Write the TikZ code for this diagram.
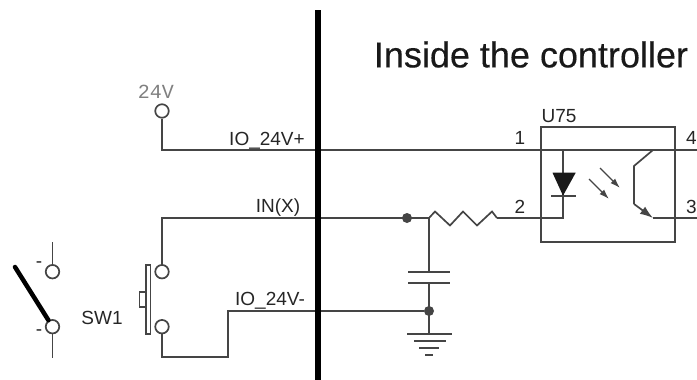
\documentclass[tikz,border=0pt]{standalone}
\usepackage{fontspec}
\setmainfont{Liberation Sans}
\setmonofont{Liberation Mono}
\newfontfamily\titlefont[FakeBold=0.35]{Liberation Sans}
\usetikzlibrary{arrows.meta}
\usetikzlibrary{positioning}
\definecolor{wirecol}{HTML}{454545}
\tikzstyle{term} = [circle, draw=wirecol, line width=1.7pt, inner sep=0pt, minimum size=13.5pt]
\tikzstyle{dot} = [circle, fill=wirecol, inner sep=0pt, minimum size=10pt]
\tikzstyle{label} = [inner sep=0pt, font=\fontsize{19}{19}\selectfont, text=black!85]
\tikzstyle{wire} = [draw=wirecol, line width=1.7pt, line join=miter]
\tikzstyle{light} = [draw=wirecol, line width=1.4pt, -{Latex[length=10pt,width=6.5pt]}]

\begin{document}
\begin{tikzpicture}[x=1pt,y=-1pt]
\useasboundingbox (0,0) rectangle (697,380);
% Place nodes
	\node [term] (v24) at (162,111) {};
	\node [term] (swt) at (162,271.7) {};
	\node [term] (swb) at (162,326.7) {};
	\node [term] (ext) at (52.5,271.7) {};
	\node [term] (exb) at (52.5,326.7) {};
	\node [dot] (jin) at (407,218) {};
	\node [dot] (jgnd) at (429,311) {};
	\coordinate (bartop) at (318,10);
	\coordinate (barbot) at (318,380);
	\coordinate (v24c) at (162,150);
	\coordinate (ledtop) at (563,150);
	\coordinate (ledbot) at (563,218);
	\coordinate (inc) at (162,218);
	\coordinate (rl) at (429,218);
	\coordinate (rr) at (497,218);
	\coordinate (capt) at (429,272);
	\coordinate (capb) at (429,283);
	\coordinate (gnd) at (429,334);
	\coordinate (lowc) at (228,311);
	\coordinate (lowb) at (228,357);
	\coordinate (swc) at (162,357);
	\coordinate (col) at (653,150);
	\coordinate (emi) at (653,218);
	\coordinate (baset) at (634,166);
	\coordinate (baseb) at (634,204);
	\coordinate (out4) at (697,150);
	\coordinate (out3) at (697,218);
	\coordinate (extop) at (52.5,241.7);
	\coordinate (exbot) at (52.5,357.7);
	\node [rectangle, draw=wirecol, line width=1.9pt, minimum width=134pt, minimum height=115pt, inner sep=0pt] (u75) at (608,184.2) {};

% Labels
	\node [inner sep=0pt, font=\titlefont\fontsize{36}{36}\selectfont, text=black!90] (title) at (531,54.5) {Inside the controller};
	\node [inner sep=0pt, font=\ttfamily\fontsize{20}{20}\selectfont, text=black!50] (l24) at (156,92) {24V};
	\node [label] (lp) at (267,141) {IO\_24V+};
	\node [label] (lx) at (278,208) {IN(X)};
	\node [label] (lm) at (270,301) {IO\_24V-};
	\node [label] (sw1) at (102,318) {SW1};
	\node [label] (pa) at (520,138) {1};
	\node [label] (pb) at (520,207) {2};
	\node [label, anchor=east] (pc) at (697,207) {3};
	\node [label, anchor=east] (pd) at (697,138) {4};
	\node [label] (lu) at (559,116) {U75};
	\node [label] (ma) at (39,265) {-};
	\node [label] (mb) at (39,333) {-};

% Draw edges
	\path [wire] (v24) -- (v24c) -- (ledtop) -- (ledbot) -- (rr);
	\path [wire] (swt) -- (inc) -- (rl);
	\path [wire] (rl) -- ++(6,-6.5) -- ++(15,14) -- ++(13,-14) -- ++(14,14) -- ++(15,-14) -- (rr);
	\path [wire] (rl) -- (capt);
	\path [wire] (capb) -- (gnd);
	\path [wire] (swb) -- (swc) -- (lowb) -- (lowc) -- (jgnd);
	\path [wire] (ext) -- (extop);
	\path [wire] (exb) -- (exbot);
	\path [wire] (ledtop) -- (col) -- (out4);
	\path [wire] (emi) -- (out3);
	\path [wire] (col) -- (baset) -- (baseb);
	\path [wire, -{Latex[length=13pt,width=9pt]}] (baseb) -- (emi);

% Symbols
	\path [wire] (408,272) -- (450,272);
	\path [wire] (408,283) -- (450,283);
	\path [wire] (407,334) -- (452,334);
	\path [wire] (414,341) -- (446,341);
	\path [wire] (419,348) -- (439,348);
	\path [wire] (425,355) -- (433,355);
	\path [fill=black!90] (552.5,172.7) -- (575.7,172.7) -- (563,195.7) -- cycle;
	\path [wire] (551,196) -- (576,196);
	\path [light] (589,179) -- (609,199);
	\path [light] (600,168) -- (620,188);
	\path [wire] (146,265) rectangle (150.5,334);
	\path [wire] (146,292) -- (139.5,292) -- (139.5,307) -- (146,307);
	\path [draw=black, line width=4.5pt, line cap=round] (15,267) -- (exb);
	\path [draw=black, line width=5.5pt] (bartop) -- (barbot);

\end{tikzpicture}
\end{document}
